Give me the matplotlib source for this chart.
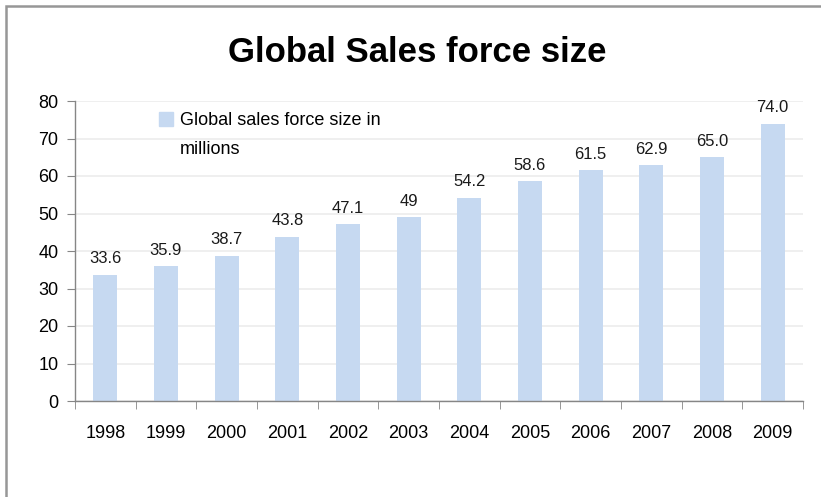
import matplotlib
matplotlib.use('Agg')
import matplotlib.pyplot as plt
from matplotlib.patches import Rectangle, Patch

years = ['1998', '1999', '2000', '2001', '2002', '2003',
         '2004', '2005', '2006', '2007', '2008', '2009']
sales_force = [33.6, 35.9, 38.7, 43.8, 47.1, 49, 54.2, 58.6, 61.5, 62.9, 65.0, 74.0]
value_labels = ['33.6', '35.9', '38.7', '43.8', '47.1', '49',
                '54.2', '58.6', '61.5', '62.9', '65.0', '74.0']
y_ticks = [0, 10, 20, 30, 40, 50, 60, 70, 80]

plt.rcParams['font.family'] = ['Liberation Sans', 'DejaVu Sans']

W, H = 821, 497
fig = plt.figure(figsize=(W / 100, H / 100), dpi=100)

# outer chart frame (runs off the right and bottom edges)
fig.patches.append(Rectangle((6 / W, -0.1), 1.1, 1 - 6 / H + 0.1,
                             transform=fig.transFigure, fill=False,
                             edgecolor='#979797', linewidth=1.8))

ax = fig.add_axes([75 / W, 1 - 401 / H, (803 - 75) / W, 300 / H])

bar_color = '#c6d9f1'
x = list(range(len(years)))
ax.bar(x, sales_force, width=0.4, color=bar_color, zorder=2)

for xi, v, lbl in zip(x, sales_force, value_labels):
    ax.text(xi, v + 2.3, lbl, ha='center', va='bottom', fontsize=12, color='#1a1a1a')

ax.set_xlim(-0.5, len(years) - 0.5)
ax.set_ylim(0, 80)
ax.set_yticks(y_ticks)
ax.set_yticklabels([str(t) for t in y_ticks], fontsize=13)
ax.set_xticks(x)
ax.set_xticklabels(years, fontsize=13)
ax.tick_params(axis='x', length=0, pad=17)
ax.tick_params(axis='y', length=6, color='#868686', pad=6)

# category boundary ticks
ax.set_xticks([i - 0.5 for i in range(len(years) + 1)], minor=True)
ax.tick_params(axis='x', which='minor', length=6, color='#868686', direction='out')

ax.yaxis.grid(True, color='#ececec', linewidth=1.2, zorder=0)
ax.set_axisbelow(True)
for side in ['top', 'right']:
    ax.spines[side].set_visible(False)
for side in ['left', 'bottom']:
    ax.spines[side].set_color('#868686')
    ax.spines[side].set_linewidth(1.0)

# legend: first line with the swatch, second line wrapped below like the original
leg = ax.legend(handles=[Patch(color=bar_color, label='Global sales force size in')],
                loc='upper left', bbox_to_anchor=(0.1, 1.0), frameon=False,
                fontsize=13, handlelength=0.8, handleheight=0.8,
                handletextpad=0.4, borderaxespad=0.2)
fig.text(180 / W, 1 - 150 / H, 'millions', ha='left', va='center', fontsize=13)

fig.text(417 / W, 1 - 52 / H, 'Global Sales force size', ha='center', va='center',
         fontsize=25, fontweight='bold')

fig.savefig('out.png', dpi=100)
